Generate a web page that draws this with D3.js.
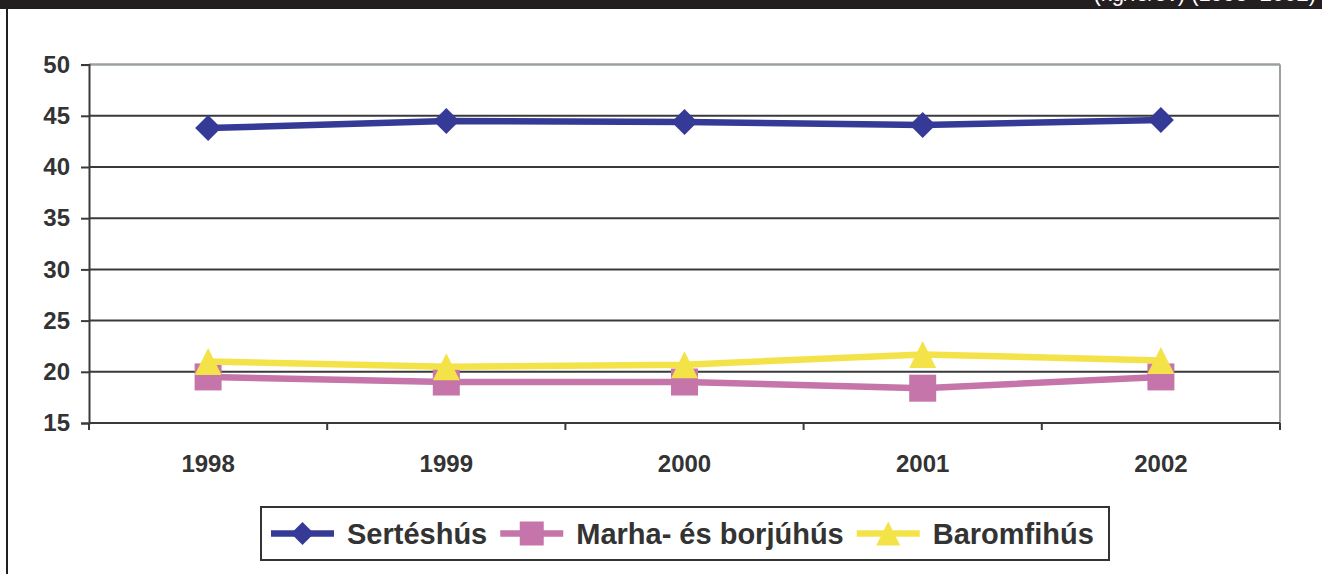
<!DOCTYPE html>
<html>
<head>
<meta charset="utf-8">
<script src="https://cdn.jsdelivr.net/npm/d3@7"></script>
<style>
  body { margin: 0; background: #fff; }
  svg { display: block; font-family: "Liberation Sans", Arial, sans-serif; }
</style>
</head>
<body>
<script>
// data (kg/fő/év)
var years = ["1998", "1999", "2000", "2001", "2002"];
var sertes = [43.8, 44.5, 44.4, 44.1, 44.6];
var marha = [19.5, 19.0, 19.0, 18.4, 19.5];
var baromfi = [21.0, 20.5, 20.7, 21.7, 21.1];
var seriesNames = ["Sertéshús", "Marha- és borjúhús", "Baromfihús"];
var yTicks = [15, 20, 25, 30, 35, 40, 45, 50];

var W = 1322, H = 574;
var plot = {left: 89, right: 1280, top: 64.6, bottom: 423};
var colors = ["#363a97", "#c575a9", "#f4e348"];
var shapes = ["diamond", "square", "triangle"];
var textColor = "#333";

var svg = d3.select("body").append("svg")
  .attr("width", W)
  .attr("height", H);

// header strip (its caption is cut off by the page edge, as in the scan) + frame line
svg.append("rect").attr("x", 0).attr("y", 0).attr("width", W).attr("height", 9).attr("fill", "#231f20");
svg.append("text")
  .attr("x", 1316).attr("y", 1)
  .attr("text-anchor", "end")
  .attr("fill", "#fff")
  .style("font-size", "22px")
  .text("(kg/fő/év) (1998–2002)");
svg.append("line")
  .attr("x1", 7).attr("x2", 7).attr("y1", 0).attr("y2", H)
  .attr("stroke", "#231f20").attr("stroke-width", 2);

var x = d3.scaleBand().domain(years).range([plot.left, plot.right]);
var y = d3.scaleLinear().domain([15, 50]).range([plot.bottom, plot.top]);

// gridlines
svg.append("g").selectAll("line")
  .data(yTicks.filter(function(d){ return d > 15 && d < 50; }))
  .enter().append("line")
    .attr("x1", plot.left).attr("x2", plot.right)
    .attr("y1", function(d){ return y(d); })
    .attr("y2", function(d){ return y(d); })
    .attr("stroke", "#3a3a3a").attr("stroke-width", 2);

// plot border (top / right in grey)
svg.append("line")
  .attr("x1", plot.left).attr("x2", plot.right)
  .attr("y1", y(50)).attr("y2", y(50))
  .attr("stroke", "#9aa1a1").attr("stroke-width", 2.5);
svg.append("line")
  .attr("x1", plot.right).attr("x2", plot.right)
  .attr("y1", plot.top).attr("y2", plot.bottom)
  .attr("stroke", "#9aa1a1").attr("stroke-width", 2);

// y axis
var yAxis = svg.append("g")
  .attr("transform", "translate(" + plot.left + ",0)")
  .call(d3.axisLeft(y).tickValues(yTicks).tickSize(8).tickPadding(11));
yAxis.select(".domain").attr("stroke", "#3a3a3a").attr("stroke-width", 2);
yAxis.selectAll(".tick line").attr("stroke", "#3a3a3a").attr("stroke-width", 2);
yAxis.selectAll(".tick text")
  .attr("fill", textColor)
  .style("font-size", "24px").style("font-weight", "bold");

// x axis: ticks at band edges, labels at band centres
var xEdges = years.map(function(d){ return x(d); }).concat([plot.right]);
var xAxisG = svg.append("g").attr("transform", "translate(0," + plot.bottom + ")");
xAxisG.append("line")
  .attr("x1", plot.left).attr("x2", plot.right)
  .attr("stroke", "#3a3a3a").attr("stroke-width", 2);
xAxisG.selectAll(".xt").data(xEdges).enter().append("line")
  .attr("x1", function(d){ return d; }).attr("x2", function(d){ return d; })
  .attr("y1", 0).attr("y2", 7)
  .attr("stroke", "#3a3a3a").attr("stroke-width", 2);
xAxisG.selectAll("text").data(years).enter().append("text")
  .attr("x", function(d){ return x(d) + x.bandwidth() / 2; })
  .attr("y", 49)
  .attr("text-anchor", "middle")
  .attr("fill", textColor)
  .style("font-size", "24px").style("font-weight", "bold")
  .text(function(d){ return d; });

function markerPath(shape, s) {
  var h = s / 2;
  if (shape == "diamond") return "M0," + (-h) + "L" + h + ",0L0," + h + "L" + (-h) + ",0Z";
  if (shape == "square") return "M" + (-h) + "," + (-h) + "h" + s + "v" + s + "h" + (-s) + "Z";
  return "M0," + (-h) + "L" + h + "," + h + "L" + (-h) + "," + h + "Z";
}

var allSeries = [sertes, marha, baromfi];
var line = d3.line()
  .x(function(d, i){ return x(years[i]) + x.bandwidth() / 2; })
  .y(function(d){ return y(d); });

allSeries.forEach(function(vals, k) {
  var g = svg.append("g");
  g.append("path")
    .attr("d", line(vals))
    .attr("fill", "none")
    .attr("stroke", colors[k])
    .attr("stroke-width", 6.5)
    .attr("stroke-linejoin", "round");
  g.selectAll("path.m").data(vals).enter().append("path")
    .attr("class", "m")
    .attr("transform", function(d, i){ return "translate(" + (x(years[i]) + x.bandwidth() / 2) + "," + y(d) + ")"; })
    .attr("d", markerPath(shapes[k], k == 0 ? 26 : 27))
    .attr("fill", colors[k]);
});

// legend
var leg = {left: 261, top: 507, right: 1109, bottom: 560};
svg.append("rect")
  .attr("x", leg.left).attr("y", leg.top)
  .attr("width", leg.right - leg.left).attr("height", leg.bottom - leg.top)
  .attr("fill", "#fff").attr("stroke", "#333").attr("stroke-width", 2);
var lx = leg.left + 10, ly = (leg.top + leg.bottom) / 2;
seriesNames.forEach(function(name, k) {
  var g = svg.append("g");
  g.append("line")
    .attr("x1", lx).attr("x2", lx + 63).attr("y1", ly).attr("y2", ly)
    .attr("stroke", colors[k]).attr("stroke-width", 6.5);
  g.append("path")
    .attr("transform", "translate(" + (lx + 31.5) + "," + ly + ")")
    .attr("d", markerPath(shapes[k], k == 0 ? 23 : 24))
    .attr("fill", colors[k]);
  var t = g.append("text")
    .attr("x", lx + 76).attr("y", ly + 10.5)
    .attr("fill", textColor)
    .style("font-size", "29px").style("font-weight", "bold")
    .text(name);
  lx = lx + 76 + t.node().getComputedTextLength() + 13;
});
</script>
</body>
</html>
